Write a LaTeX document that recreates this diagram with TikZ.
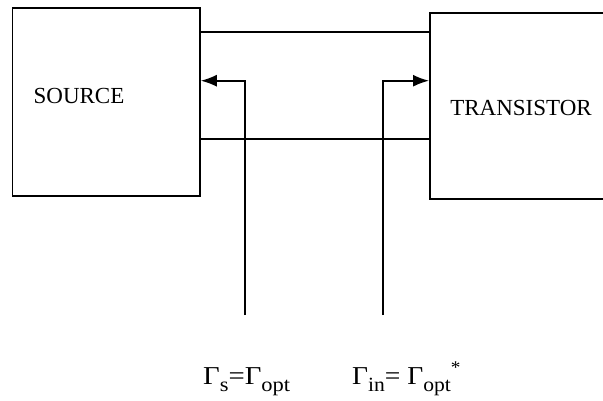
\documentclass[tikz,border=0pt]{standalone}
\usepackage{fontspec}
\setmainfont{Liberation Serif}
\usetikzlibrary{arrows.meta}
\newcommand{\gsub}[1]{\raisebox{-7pt}{\fontsize{18}{20}\selectfont #1}}
\begin{document}
\begin{tikzpicture}[x=1pt,y=-1pt,
  blk/.style={draw,line width=1.8pt,inner sep=0pt,anchor=north west},
  wire/.style={line width=1.6pt},
  arr/.style={line width=1.6pt,-{Latex[length=16pt,width=12pt]}},
  lbl/.style={font=\fontsize{23}{27}\selectfont,inner sep=0pt}]
\useasboundingbox (0,0) rectangle (603,400);
\begin{scope}
\clip (0,0) rectangle (603,400);
\node[blk,minimum width=187.5pt,minimum height=187.7pt] (src) at (11.5,7.3) {};
\node[blk,minimum width=180pt,minimum height=186.6pt] (tr) at (429,11.7) {};
\end{scope}
\node[lbl] (srct) at (79,96) {SOURCE};
\node[lbl] (trt) at (521,108) {TRANSISTOR};
\coordinate (wt) at (300,31.7);
\coordinate (wb) at (300,139);
\draw[wire] (src.east |- wt) -- (tr.west |- wt);
\draw[wire] (src.east |- wb) -- (tr.west |- wb);
\coordinate (lt) at (245,80.7);
\coordinate (lb) at (245,315);
\coordinate (rt) at (383,80.7);
\coordinate (rb) at (383,315);
\draw[arr] (lb) -- (lt) -- (src.east |- lt);
\draw[arr] (rb) -- (rt) -- (tr.west |- rt);
\node[lbl,anchor=base west] (g1) at (203,384) {\scalebox{1.25}[1.12]{Γ\gsub{s}=Γ\gsub{opt}}};
\node[lbl,anchor=base west] (g2) at (352,384) {\scalebox{1.2}[1.12]{Γ\gsub{in}= Γ\gsub{opt}\raisebox{9pt}{\fontsize{16}{18}\selectfont *}}};
\end{tikzpicture}
\end{document}
